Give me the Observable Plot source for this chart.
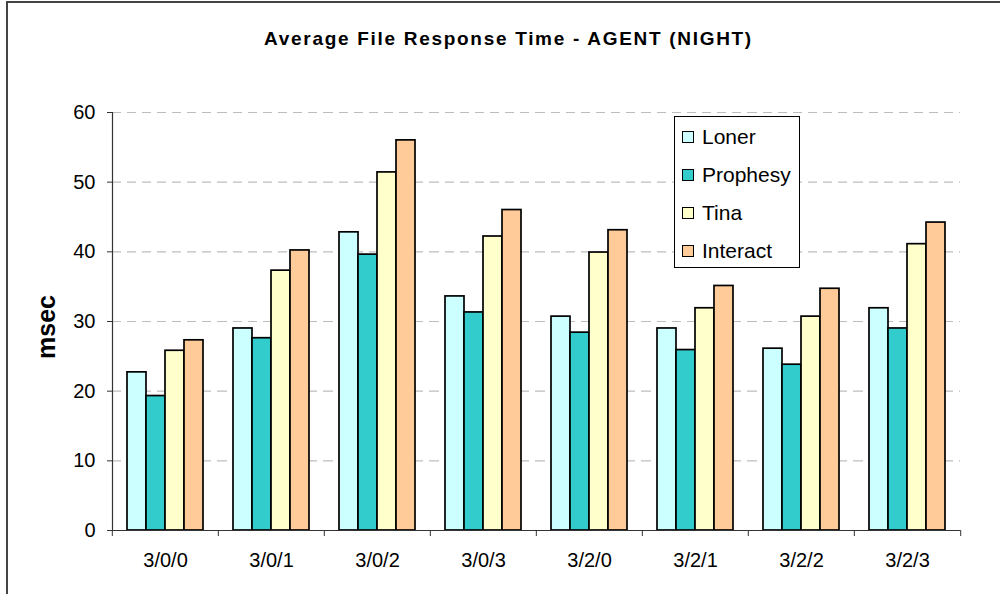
<!DOCTYPE html>
<html><head><meta charset="utf-8">
<script src="https://cdn.jsdelivr.net/npm/d3@7"></script>
<script src="https://cdn.jsdelivr.net/npm/@observablehq/plot@0.6"></script>
<style>
body{margin:0;background:#fff;font-family:Arial,"Liberation Sans",sans-serif;}
#wrap{position:relative;width:1000px;height:594px;overflow:hidden;background:#fff;}
#frame{position:absolute;left:6px;top:1px;width:1100px;height:700px;border-left:2px solid #444;border-top:2px solid #444;}
#title{position:absolute;left:0;width:1017px;top:29px;text-align:center;font-weight:bold;font-size:19px;line-height:19px;letter-spacing:1.7px;color:#000;}
#ylabel{position:absolute;left:46px;top:327px;transform:translate(-50%,-50%) rotate(-90deg);font-weight:bold;font-size:25px;line-height:25px;white-space:nowrap;}
#chart{position:absolute;left:0;top:0;}
#legend{position:absolute;left:674px;top:116px;width:126px;height:152px;box-sizing:border-box;border:1px solid #000;background:#fff;}
.row{position:absolute;left:7px;height:20px;display:flex;align-items:center;font-size:21px;line-height:20px;}
.sw{width:12px;height:12px;box-sizing:border-box;border:1.6px solid #000;margin-right:8px;}
</style></head>
<body>
<div id="wrap">
  <div id="frame"></div>
  <div id="chart"></div>
  <div id="title">Average File Response Time - AGENT (NIGHT)</div>
  <div id="ylabel">msec</div>
  <div id="legend"></div>
</div>
<script>
const categories = ["3/0/0","3/0/1","3/0/2","3/0/3","3/2/0","3/2/1","3/2/2","3/2/3"];
const series = ["Loner","Prophesy","Tina","Interact"];
const loner    = [22.7, 29.0, 42.8, 33.6, 30.7, 29.0, 26.1, 31.9];
const prophesy = [19.3, 27.6, 39.6, 31.3, 28.4, 25.9, 23.8, 29.0];
const tina     = [25.8, 37.3, 51.4, 42.2, 39.9, 31.9, 30.7, 41.1];
const interact = [27.3, 40.2, 56.0, 46.0, 43.1, 35.1, 34.7, 44.2];
const colors = ["#CCFFFF", "#33CCCC", "#FFFFCC", "#FFCC99"];
const yTicks = [0, 10, 20, 30, 40, 50, 60];

const seriesValues = [loner, prophesy, tina, interact];
const data = categories.flatMap((c, i) =>
  seriesValues.map((arr, j) => ({category: c, series: series[j], value: arr[i]})));

const W = 1000, H = 594, ML = 110, MR = 39, MT = 112, MB = 64;
const step = (W - ML - MR) / categories.length;

const chart = Plot.plot({
  width: W, height: H,
  marginLeft: ML, marginRight: MR, marginTop: MT, marginBottom: MB,
  style: {fontFamily: "Arial, 'Liberation Sans', sans-serif", fontSize: "20px", color: "#000", background: "transparent"},
  fx: {domain: categories, padding: 0, axis: null, label: null},
  x: {domain: series, paddingInner: 0, paddingOuter: 0.728, axis: null},
  y: {domain: [0, 60], axis: null},
  color: {domain: series, range: colors},
  marks: [
    Plot.ruleY(yTicks.filter(d => d > 0), {stroke: "#bdbdbd", strokeWidth: 1.2, strokeDasharray: "9,6"}),
    Plot.barY(data, {fx: "category", x: "series", y: "value", fill: "series", stroke: "#000", strokeWidth: 1.7}),
    Plot.ruleY([0], {stroke: "#333", strokeWidth: 1.2}),
    Plot.frame({anchor: "left", facet: "super", stroke: "#333", strokeWidth: 1.2}),
    Plot.axisY({ticks: yTicks, tickSize: 5, tickPadding: 12, fontSize: 20, tickFormat: d => d, label: null, stroke: "#333"}),
    Plot.axisFx({anchor: "bottom", tickSize: 0, tickPadding: 22, fontSize: 20, label: null}),
    Plot.axisFx({anchor: "bottom", tickSize: 6, tickFormat: () => "", dx: -step / 2, label: null, stroke: "#333"}),
    Plot.axisFx({anchor: "bottom", ticks: [categories[categories.length - 1]], tickSize: 6, tickFormat: () => "", dx: step / 2, label: null, stroke: "#333"})
  ]
});
document.getElementById("chart").appendChild(chart);

const legend = document.getElementById("legend");
series.forEach((s, i) => {
  const row = document.createElement("div");
  row.className = "row";
  row.style.top = (10 + i * 38) + "px";
  const sw = document.createElement("div");
  sw.className = "sw";
  sw.style.background = colors[i];
  const t = document.createElement("span");
  t.textContent = s;
  row.appendChild(sw); row.appendChild(t);
  legend.appendChild(row);
});
</script>
</body></html>
